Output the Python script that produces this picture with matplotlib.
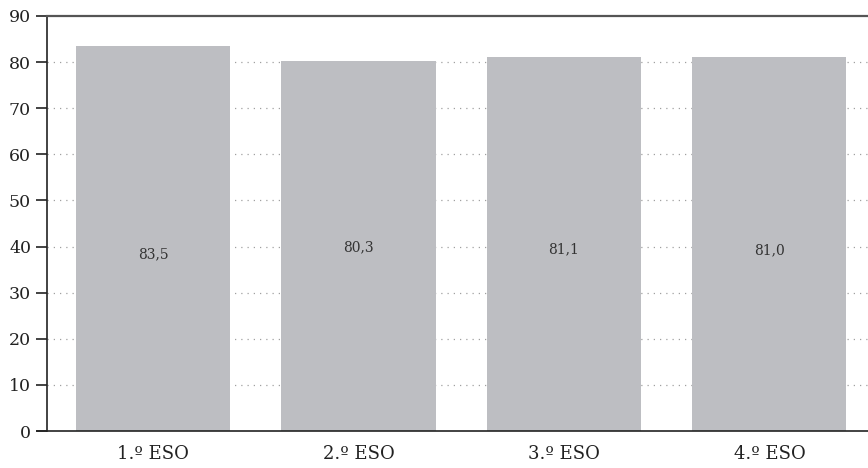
import matplotlib
matplotlib.use("Agg")
import matplotlib.pyplot as plt

categories = ["1.º ESO", "2.º ESO", "3.º ESO", "4.º ESO"]
values = [83.5, 80.3, 81.1, 81.0]
value_labels = ["83,5", "80,3", "81,1", "81,0"]
label_y = [38.4, 39.9, 39.3, 39.1]
yticks = [0, 10, 20, 30, 40, 50, 60, 70, 80, 90]

plt.rcParams['font.family'] = ['DejaVu Serif', 'Liberation Serif']

fig = plt.figure(figsize=(8.68, 4.68), dpi=100)
ax = fig.add_axes([47/868, 1-431/468, 1-47/868, (431-16)/468])

x = list(range(len(categories)))
ax.bar(x, values, width=0.75, color="#bdbec2", zorder=2)
for xi, ly, lab in zip(x, label_y, value_labels):
    ax.text(xi, ly, lab, ha="center", va="center", fontsize=10, color="#333333", zorder=3)

ax.set_xlim(-0.516, 3.48)
ax.set_ylim(0, 90)
ax.set_yticks(yticks)
ax.set_yticklabels([str(v) for v in yticks], fontsize=12.5, color="#222222")
ax.set_xticks(x)
ax.set_xticklabels(categories, fontsize=13, color="#222222")
ax.tick_params(axis="x", length=0, pad=10)
ax.tick_params(axis="y", length=8, width=1.2, color="#222222", pad=3.5, direction="out")

for v in yticks[1:-1]:
    ax.axhline(v, color="#a0a0a0", linestyle=(0, (1, 4)), linewidth=0.9, zorder=1)

ax.spines["right"].set_visible(False)
ax.spines["top"].set_color("#555555")
ax.spines["top"].set_linewidth(1.6)
ax.spines["left"].set_color("#222222")
ax.spines["left"].set_linewidth(1.2)
ax.spines["bottom"].set_color("#222222")
ax.spines["bottom"].set_linewidth(1.2)
ax.spines["bottom"].set_bounds(-0.516 - 10/205.5, 3.48)

fig.savefig("out.png", dpi=100)
